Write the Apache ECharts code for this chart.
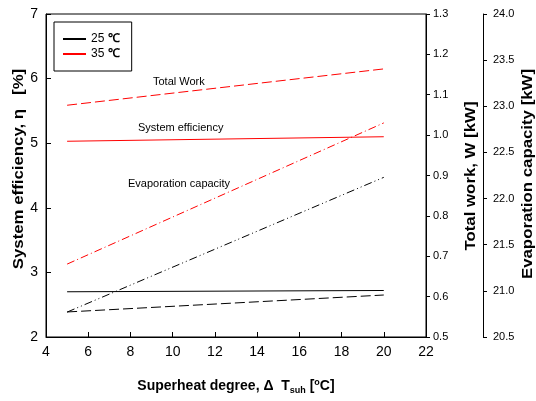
<!DOCTYPE html>
<html>
<head>
<meta charset="utf-8">
<script src="https://cdn.jsdelivr.net/npm/echarts@6/dist/echarts.min.js"></script>
<style>
  html, body { margin: 0; padding: 0; background: #fff; }
  #main { width: 536px; height: 401px; }
</style>
</head>
<body>
<div id="main"></div>
<script>
// superheat degree (x), only the end points of each straight line
const superheat = [5, 20];

// 25 ℃
const eff25 = [2.70, 2.72];      // system efficiency [%]
const work25 = [0.562, 0.604];   // total work [kW]
const evap25 = [20.77, 22.23];   // evaporation capacity [kW]

// 35 ℃
const eff35 = [5.03, 5.10];
const work35 = [1.074, 1.164];
const evap35 = [21.29, 22.82];

const legendNames = ['25 ℃', '35 ℃'];

function pairs(ys) {
  return superheat.map((x, i) => [x, ys[i]]);
}

const font = 'Liberation Sans, Arial, sans-serif';

let chart = echarts.init(document.getElementById('main'));

function lineSeries(name, ys, axis, color, type) {
  return {
    name: name,
    type: 'line',
    yAxisIndex: axis,
    data: pairs(ys),
    symbol: 'none',
    lineStyle: { color: color, width: 1, type: type },
    itemStyle: { color: color }
  };
}

// rotated axis title, stretched along the text like in the original figure
function sideTitle(text, x, y) {
  return {
    type: 'text',
    x: x, y: y,
    rotation: Math.PI / 2,
    scaleX: 1.2,
    style: {
      text: text, fontSize: 14, fontWeight: 'bold', fill: '#000',
      fontFamily: font, align: 'center', verticalAlign: 'middle'
    }
  };
}

chart.setOption({
  animation: false,
  textStyle: { fontFamily: font },
  grid: {
    left: 46, right: 110, top: 14, bottom: 64,
    show: true, borderColor: '#000', borderWidth: 1
  },
  legend: {
    data: legendNames,
    orient: 'vertical',
    left: 54, top: 22,
    padding: [11, 12, 11, 8],
    itemWidth: 23, itemHeight: 12, itemGap: 3,
    borderColor: '#000', borderWidth: 1,
    itemStyle: { opacity: 0 },
    formatter: name => name.replace('℃', '{c|℃}'),
    textStyle: {
      fontSize: 12, color: '#000', fontFamily: font,
      rich: { c: { fontSize: 12, fontWeight: 'bold', color: '#000' } }
    }
  },
  xAxis: {
    type: 'value',
    min: 4, max: 22, interval: 2,
    name: 'Superheat degree, Δ  T{sub|suh} [{sup|o}C]',
    nameLocation: 'middle',
    nameGap: 40,
    nameTextStyle: {
      fontSize: 14, fontWeight: 'bold', color: '#000',
      rich: {
        sub: { fontSize: 9, fontWeight: 'bold', padding: [9, 0, 0, 0] },
        sup: { fontSize: 9, fontWeight: 'bold', padding: [0, 0, 7, 0] }
      }
    },
    axisLine: { lineStyle: { color: '#000' } },
    axisTick: { inside: true, length: 5, lineStyle: { color: '#000' } },
    axisLabel: { fontSize: 14, color: '#000', margin: 8 },
    splitLine: { show: false }
  },
  yAxis: [
    {
      type: 'value',
      position: 'left',
      min: 2, max: 7, interval: 1,
      axisLine: { show: true, lineStyle: { color: '#000' } },
      axisTick: { show: true, inside: true, length: 5, lineStyle: { color: '#000' } },
      axisLabel: { fontSize: 14, color: '#000', margin: 8 },
      splitLine: { show: false }
    },
    {
      type: 'value',
      position: 'right',
      min: 0.5, max: 1.3, interval: 0.1,
      axisLine: { show: true, lineStyle: { color: '#000' } },
      axisTick: { show: true, length: 4, lineStyle: { color: '#000' } },
      axisLabel: { fontSize: 11, color: '#000', margin: 7, formatter: v => v.toFixed(1) },
      splitLine: { show: false }
    },
    {
      type: 'value',
      position: 'right',
      offset: 57,
      min: 20.5, max: 24.0, interval: 0.5,
      axisLine: { show: true, lineStyle: { color: '#000' } },
      axisTick: { show: true, length: 4, lineStyle: { color: '#000' } },
      axisLabel: { fontSize: 11, color: '#000', margin: 10, formatter: v => v.toFixed(1) },
      splitLine: { show: false }
    }
  ],
  graphic: [
    sideTitle('System efficiency, η   [%]', 19, 169),
    sideTitle('Total work, W [kW]', 471, 176),
    sideTitle('Evaporation capacity [kW]', 528, 174),
    { type: 'text', left: 153, top: 76, style: { text: 'Total Work', fontSize: 11, fill: '#000', fontFamily: font } },
    { type: 'text', left: 138, top: 122, style: { text: 'System efficiency', fontSize: 11, fill: '#000', fontFamily: font } },
    { type: 'text', left: 128, top: 178, style: { text: 'Evaporation capacity', fontSize: 11, fill: '#000', fontFamily: font } }
  ],
  series: [
    lineSeries('25 ℃', eff25, 0, '#000', 'solid'),
    lineSeries('25 ℃', work25, 1, '#000', [10, 4]),
    lineSeries('25 ℃', evap25, 2, '#000', [8, 3, 1, 3, 1, 3]),
    lineSeries('35 ℃', eff35, 0, '#ff0000', 'solid'),
    lineSeries('35 ℃', work35, 1, '#ff0000', [10, 4]),
    lineSeries('35 ℃', evap35, 2, '#ff0000', [8, 3, 1, 3])
  ]
});
</script>
</body>
</html>
